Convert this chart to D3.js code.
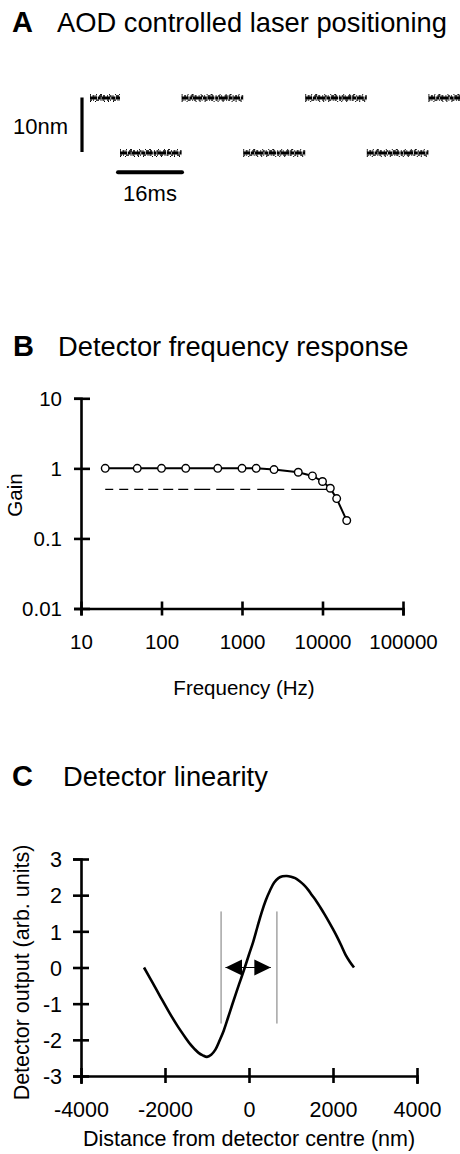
<!DOCTYPE html>
<html><head><meta charset="utf-8">
<script src="https://cdn.jsdelivr.net/npm/d3@7"></script>
<style>
body{margin:0;background:#fff}
svg{display:block}
text{font-family:"Liberation Sans",Arial,Helvetica,sans-serif;fill:#000}
</style>
</head><body>
<svg id="fig" width="460" height="1154"></svg>
<script>
// ---------- Panel A: AOD controlled laser positioning (square steps) ----------
const aodStartMs = [0, 7.5, 22.9, 38.3, 53.8, 69.2, 84.6];
const aodEndMs   = [7.5, 22.9, 38.3, 53.8, 69.2, 84.6, 92.5];
const aodPosNm   = [10, 0, 10, 0, 10, 0, 10];
const scaleBarNm = 10, scaleBarMs = 16;

// ---------- Panel B: Detector frequency response ----------
const freqHz = [20, 50, 100, 200, 500, 1000, 1500, 2500, 5000, 7500, 10000, 12500, 15000, 20000];
const gain   = [1, 1, 1, 1, 1, 1, 1, 0.96, 0.88, 0.78, 0.65, 0.52, 0.37, 0.18];
const halfGain = 0.5;
const halfGainFreqRange = [20, 12500];
const freqTicks = [10, 100, 1000, 10000, 100000];
const freqTickLabels = ["10", "100", "1000", "10000", "100000"];
const gainTicks = [0.01, 0.1, 1, 10];
const gainTickLabels = ["0.01", "0.1", "1", "10"];

// ---------- Panel C: Detector linearity ----------
const distNm = [-2500,-2300,-2100,-1900,-1700,-1500,-1400,-1300,-1200,-1100,-1000,-900,-800,-700,-600,-500,-400,-300,-200,-100,0,100,200,300,400,500,600,700,800,900,1000,1100,1200,1300,1400,1500,1600,1700,1800,1900,2000,2100,2200,2300,2400,2500];
const detOut = [0.0,-0.41,-0.83,-1.24,-1.62,-1.96,-2.12,-2.25,-2.36,-2.43,-2.47,-2.41,-2.27,-2.02,-1.74,-1.39,-1.03,-0.68,-0.34,0.0,0.36,0.71,1.12,1.52,1.86,2.13,2.35,2.47,2.52,2.53,2.51,2.47,2.39,2.29,2.16,2.00,1.84,1.66,1.47,1.27,1.06,0.84,0.60,0.35,0.16,0.0];
const linearRangeNm = [-665, 665];
const linearRangeOut = [-1.55, 1.55];
const arrowNm = [-560, 520];
const distTicks = [-4000, -2000, 0, 2000, 4000];
const outTicks = [-3, -2, -1, 0, 1, 2, 3];

const svg = d3.select("#fig");

function title(letter, text, lx, tx, by, tSize) {
  svg.append("text").attr("x", lx).attr("y", by).attr("font-size", 29).attr("font-weight", "bold").text(letter);
  svg.append("text").attr("x", tx).attr("y", by).attr("font-size", tSize).text(text);
}

// ================= Panel A =================
title("A", "AOD controlled laser positioning", 12, 57, 32, 27.3);
const xA = d3.scaleLinear().domain([0, 92.5]).range([90, 460]);
const yA = d3.scaleLinear().domain([0, 10]).range([153, 98]);
const gA = svg.append("g");
const segs = aodStartMs.map((s, i) => ({s, e: aodEndMs[i], p: aodPosNm[i]}));
const traceStyles = [
  {dy: 0,    w: 3.0, dash: "7,0.8,3,0.6,9,0.8,4,0.6"},
  {dy: -2.0, w: 1.4, dash: "1,1.5,2,1,1,2.5,3,1,2,2"},
  {dy: 2.1,  w: 1.4, dash: "2,1,1,2,3,1.5,1,1,2,2.5"},
  {dy: -3.4, w: 1,   dash: "1,5,1,3,2,7"},
  {dy: 3.5,  w: 1,   dash: "1,4,1,8,1,3"}
];
traceStyles.forEach(st => {
  gA.selectAll(null).data(segs).join("line")
    .attr("x1", d => xA(d.s)).attr("x2", d => xA(d.e))
    .attr("y1", d => yA(d.p) + st.dy).attr("y2", d => yA(d.p) + st.dy)
    .attr("stroke", "#000").attr("stroke-width", st.w)
    .attr("stroke-dasharray", st.dash);
});
// scale bars
gA.append("line").attr("x1", xA(-2)).attr("x2", xA(-2))
  .attr("y1", yA(0) - 1).attr("y2", yA(scaleBarNm) - 0.5)
  .attr("stroke", "#000").attr("stroke-width", 3.2);
gA.append("line").attr("x1", xA(7)).attr("x2", xA(7 + scaleBarMs))
  .attr("y1", yA(-3.5)).attr("y2", yA(-3.5))
  .attr("stroke", "#000").attr("stroke-width", 4).attr("stroke-linecap", "round");
gA.append("text").attr("x", 68).attr("y", 134).attr("text-anchor", "end").attr("font-size", 22).text("10nm");
gA.append("text").attr("x", xA(7 + scaleBarMs / 2)).attr("y", 201).attr("text-anchor", "middle").attr("font-size", 22).text("16ms");

// ================= Panel B =================
title("B", "Detector frequency response", 13, 58, 356, 27.3);
const xB = d3.scaleLog().domain([10, 100000]).range([81, 403]);
const yB = d3.scaleLog().domain([0.01, 10]).range([608.5, 398.3]);
const gB = svg.append("g");
const axBy = gB.append("g").attr("transform", `translate(${xB(10)},0)`)
  .call(d3.axisLeft(yB).tickValues(gainTicks).tickFormat((d, i) => gainTickLabels[i]).tickSizeOuter(0).tickSize(7));
const axBx = gB.append("g").attr("transform", `translate(0,${yB(0.01)})`)
  .call(d3.axisBottom(xB).tickValues(freqTicks).tickFormat((d, i) => freqTickLabels[i]).tickSizeOuter(0).tickSize(7));
[axBy, axBx].forEach(a => {
  a.attr("font-size", 20.5).attr("font-family", null);
  a.select(".domain").attr("stroke-width", 2.6).attr("stroke", "#000");
  a.selectAll(".tick line").attr("stroke-width", 2.6).attr("stroke", "#000");
  a.selectAll(".tick text").attr("fill", "#000");
});
axBy.selectAll(".tick line").attr("x1", -7).attr("x2", 9);
axBy.selectAll(".tick text").attr("x", -19).attr("dy", "0.36em");
axBx.selectAll(".tick line").attr("y1", -7).attr("y2", 7);
axBx.selectAll(".tick text").attr("y", 40).attr("dy", 0);

// dashed half gain line
gB.append("line")
  .attr("x1", xB(halfGainFreqRange[0])).attr("x2", xB(halfGainFreqRange[1]))
  .attr("y1", yB(halfGain)).attr("y2", yB(halfGain))
  .attr("stroke", "#000").attr("stroke-width", 1.3)
  .attr("stroke-dasharray", "8,6,9,6,9,5,10,5,10,5,10,6,16,6,18,6,10,7,27,7,40");
const ptsB = freqHz.map((f, i) => [f, gain[i]]);
gB.append("path").datum(ptsB)
  .attr("d", d3.line().x(d => xB(d[0])).y(d => yB(d[1])))
  .attr("fill", "none").attr("stroke", "#000").attr("stroke-width", 2);
gB.selectAll("circle").data(ptsB).join("circle")
  .attr("cx", d => xB(d[0])).attr("cy", d => yB(d[1])).attr("r", 3.8)
  .attr("fill", "#fff").attr("stroke", "#000").attr("stroke-width", 1.4);
gB.append("text").attr("x", 244).attr("y", 695).attr("text-anchor", "middle").attr("font-size", 20.5).text("Frequency (Hz)");
gB.append("text").attr("transform", "translate(21.5,495) rotate(-90)").attr("text-anchor", "middle").attr("font-size", 20.5).text("Gain");

// ================= Panel C =================
title("C", "Detector linearity", 12, 63, 786, 27.3);
const xC = d3.scaleLinear().domain([-4000, 4000]).range([81, 417]);
const yC = d3.scaleLinear().domain([-3, 3]).range([1076, 859]);
const gC = svg.append("g");
const axCy = gC.append("g").attr("transform", `translate(${xC(-4000)},0)`)
  .call(d3.axisLeft(yC).tickValues(outTicks).tickFormat(d3.format("d")).tickSizeOuter(0).tickSize(8));
const axCx = gC.append("g").attr("transform", `translate(0,${yC(-3)})`)
  .call(d3.axisBottom(xC).tickValues(distTicks).tickFormat(d3.format("d")).tickSizeOuter(0).tickSize(8));
[axCy, axCx].forEach(a => {
  a.attr("font-size", 21.5).attr("font-family", null);
  a.select(".domain").attr("stroke-width", 2.6).attr("stroke", "#000");
  a.selectAll(".tick line").attr("stroke-width", 2.6).attr("stroke", "#000");
  a.selectAll(".tick text").attr("fill", "#000");
});
// plain hyphen-minus like the original
axCy.selectAll(".tick text").text(d => String(d));
axCx.selectAll(".tick text").text(d => String(d));
axCy.selectAll(".tick line").attr("x1", -8).attr("x2", 8);
axCy.selectAll(".tick text").attr("x", -19).attr("dy", "0.36em");
axCx.selectAll(".tick line").attr("y1", -8).attr("y2", 7);
axCx.selectAll(".tick text").attr("y", 41).attr("dy", 0);

// linear range markers
gC.selectAll(".vr").data(linearRangeNm).join("line").attr("class", "vr")
  .attr("x1", d => xC(d)).attr("x2", d => xC(d))
  .attr("y1", yC(linearRangeOut[1])).attr("y2", yC(linearRangeOut[0]))
  .attr("stroke", "#777").attr("stroke-width", 1);
// curve
const ptsC = distNm.map((d, i) => [d, detOut[i]]);
gC.append("path").datum(ptsC)
  .attr("d", d3.line().x(d => xC(d[0])).y(d => yC(d[1])).curve(d3.curveCatmullRom))
  .attr("fill", "none").attr("stroke", "#000").attr("stroke-width", 2.6).attr("stroke-linejoin", "round");
// double arrow
const ay = yC(0);
gC.append("line").attr("x1", xC(arrowNm[0])).attr("x2", xC(arrowNm[1]))
  .attr("y1", ay).attr("y2", ay).attr("stroke", "#000").attr("stroke-width", 1);
const aL = xC(arrowNm[0]), aR = xC(arrowNm[1]);
gC.append("path").attr("d", `M${aL},${ay} L${aL + 16.5},${ay - 8} L${aL + 16.5},${ay + 8} Z`).attr("fill", "#000");
gC.append("path").attr("d", `M${aR},${ay} L${aR - 16.5},${ay - 8} L${aR - 16.5},${ay + 8} Z`).attr("fill", "#000");

gC.append("text").attr("x", 249).attr("y", 1146).attr("text-anchor", "middle").attr("font-size", 21.5).text("Distance from detector centre (nm)");
gC.append("text").attr("transform", "translate(29,972.5) rotate(-90)").attr("text-anchor", "middle").attr("font-size", 21.5).text("Detector output (arb. units)");
</script>
</body></html>
